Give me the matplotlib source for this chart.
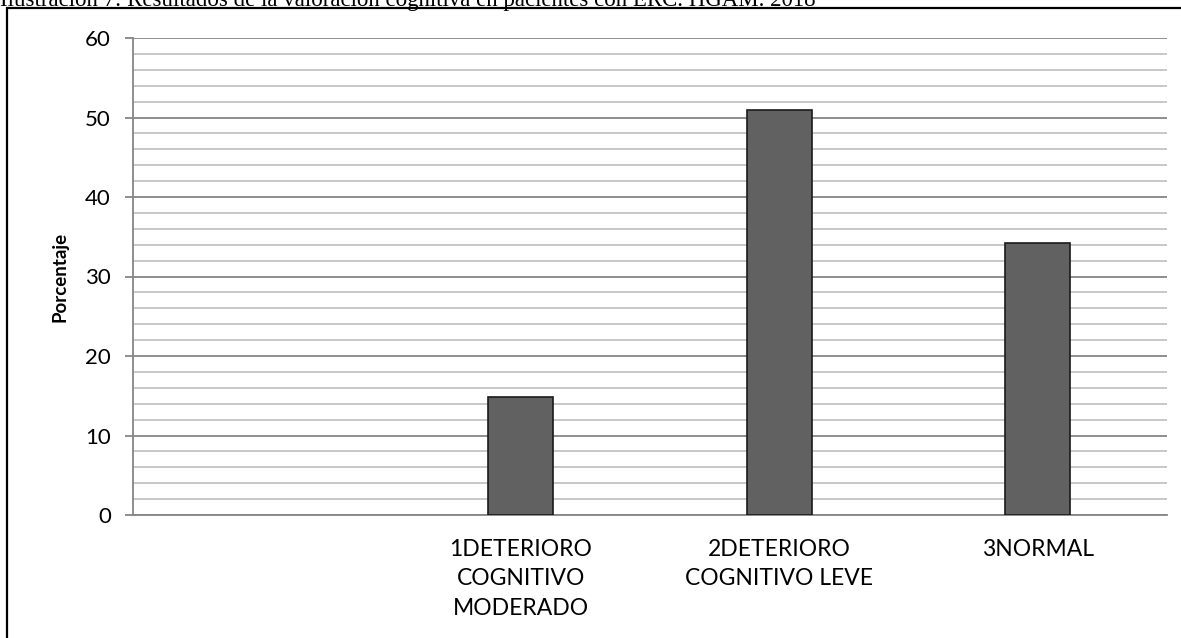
import matplotlib
matplotlib.use("Agg")
import matplotlib.pyplot as plt
from matplotlib.patches import Rectangle
from matplotlib.ticker import MultipleLocator

categories = ["", "1DETERIORO\nCOGNITIVO\nMODERADO", "2DETERIORO\nCOGNITIVO LEVE", "3NORMAL"]
values = [0, 14.9, 50.9, 34.2]
ylabel = "Porcentaje"
title = "Ilustración 7: Resultados de la valoración cognitiva en pacientes con ERC. HGAM. 2018"

plt.rcParams['font.family'] = ['Lato', 'DejaVu Sans']

W, H = 1181, 638
fig = plt.figure(figsize=(W/100, H/100), dpi=100)
ax = fig.add_axes([133/W, 1 - 515/H, (1167-133)/W, (515-38)/H])

x = list(range(len(categories)))
bars = ax.bar(x[1:], values[1:], width=0.25, color="#616161", edgecolor="#1a1a1a", linewidth=1.2, zorder=3)

ax.set_xlim(-0.5, len(categories) - 0.5)
ax.set_ylim(0, 60)
ax.yaxis.set_major_locator(MultipleLocator(10))
ax.yaxis.set_minor_locator(MultipleLocator(2))
ax.grid(axis='y', which='major', color="#868686", linewidth=1.3, zorder=0)
ax.grid(axis='y', which='minor', color="#c4c4c4", linewidth=1.3, zorder=0)
ax.set_axisbelow(True)

ax.set_xticks(x)
ax.set_xticklabels(categories, fontsize=16.5, linespacing=1.5)
ax.tick_params(axis='x', length=0, pad=17)
ax.tick_params(axis='y', which='major', length=6, width=1.3, color="#868686", labelsize=16, pad=10)
ax.tick_params(axis='y', which='minor', length=0)

for s in ['top', 'right']:
    ax.spines[s].set_visible(False)
for s in ['left', 'bottom']:
    ax.spines[s].set_color("#868686")
    ax.spines[s].set_linewidth(1.3)

ax.set_ylabel(ylabel, fontsize=13.5, fontweight='bold', labelpad=12)

# outer border (frame of the figure region)
rect = Rectangle((7/W, -0.2), 2.0, 1 - 8/H + 0.2, transform=fig.transFigure,
                 fill=False, edgecolor="black", linewidth=1.6, clip_on=False)
fig.patches.append(rect)

fig.text(0.0, 1 - 6/H, title, fontsize=16.5, family=['Liberation Serif'], va='baseline', ha='left')

fig.savefig("out.png", dpi=100)
